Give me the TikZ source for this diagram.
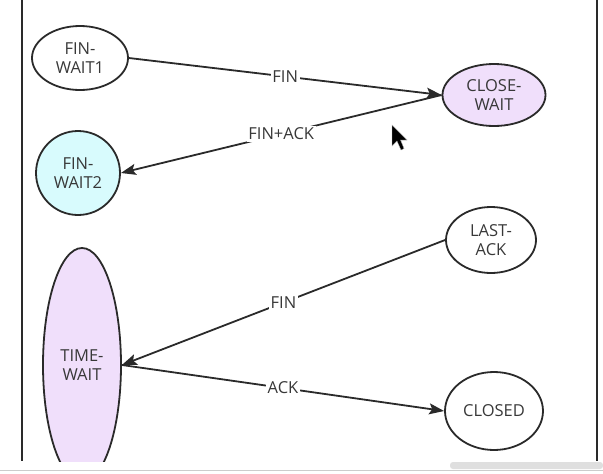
\documentclass[tikz,border=0pt]{standalone}
\usepackage{fontspec}
\setmainfont{Open Sans}
\usetikzlibrary{shapes.geometric,arrows.meta}
\definecolor{linegray}{HTML}{2A2A2A}
\definecolor{textgray}{HTML}{383838}
\definecolor{lilac}{HTML}{F0DFFB}
\definecolor{paleaqua}{HTML}{D8FBFD}

\begin{document}
\begin{tikzpicture}[x=1pt, y=-1pt,
    state/.style={ellipse, draw=linegray, line width=1.8pt, inner sep=0pt,
        align=center, text=textgray, font=\fontsize{16.5}{19}\selectfont},
    trans/.style={draw=linegray, line width=1.8pt,
        -{Stealth[length=15pt, width=11pt, inset=3pt]}},
    lbl/.style={fill=white, inner sep=1.5pt, text=textgray,
        font=\fontsize{16.5}{19}\selectfont}]
    \useasboundingbox (0,0) rectangle (603,474);

    \begin{scope}
        \clip (0,0) rectangle (603,461);

        % frame
        \draw[linegray, line width=1.4pt] (22,0) -- (22,461);
        \draw[linegray, line width=1.4pt] (597,0) -- (597,461);

        % states
        \node[state, minimum width=96pt, minimum height=64pt] (fw1) at (80,58) {FIN-\\WAIT1};
        \node[state, fill=lilac, minimum width=103pt, minimum height=62pt] (cw) at (494,95) {CLOSE-\\WAIT};
        \node[state, circle, fill=paleaqua, minimum size=84pt] (fw2) at (78,173) {FIN-\\WAIT2};
        \node[state, fill=lilac, minimum width=78pt, minimum height=234pt] (tw) at (82,365) {TIME-\\WAIT};
        \node[state, minimum width=90pt, minimum height=66pt] (la) at (491,240) {LAST-\\ACK};
        \node[state, minimum width=98pt, minimum height=78pt] (cl) at (494,411) {CLOSED};

        % transitions
        \draw[trans] (fw1.east) -- node[lbl] (fin1) {FIN} (cw.west);
        \draw[trans] (cw.west) -- node[lbl] (finack) {FIN+ACK} (fw2.east);
        \draw[trans] (la.west) -- node[lbl] (fin2) {FIN} (tw.east);
        \draw[trans] (tw.east) -- node[lbl] (ack) {ACK} (cl.west);

        % mouse pointer
        \fill[black, draw=gray!60, line width=0.4pt]
            (392,125) -- (392,146) -- (397,141) -- (401,150) -- (404,148.5)
            -- (400.5,140) -- (407,140) -- cycle;
    \end{scope}

    % window bottom
    \draw[gray!40, line width=1.2pt] (0,470.5) -- (603,470.5);
    \fill[gray!25, rounded corners=3pt] (450,462) rectangle (603,469);
\end{tikzpicture}
\end{document}
